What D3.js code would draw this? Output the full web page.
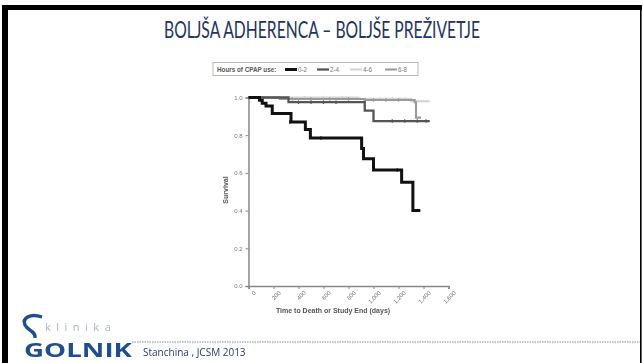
<!DOCTYPE html>
<html>
<head>
<meta charset="utf-8">
<script src="https://cdn.jsdelivr.net/npm/d3@7/dist/d3.min.js"></script>
<style>
  html, body { margin: 0; padding: 0; background: #fff; }
  svg { display: block; }
</style>
</head>
<body>
<svg id="slide" width="643" height="363"></svg>
<script>
// Kaplan–Meier survival by nightly CPAP use (hours)
const groups = ["0-2", "2-4", "4-6", "6-8"];
const groupColors = ["#111111", "#555555", "#d4d4d4", "#9a9a9a"];
const groupWidths = [3, 2.3, 2.1, 2.1];

// step points: [day, survival]; last entry marks end of follow-up
const surv02 = [[0, 1.0], [88, 0.985], [110, 0.97], [140, 0.955], [190, 0.915], [340, 0.87], [455, 0.83], [495, 0.785], [905, 0.73], [920, 0.675], [1000, 0.615], [1225, 0.55], [1315, 0.40], [1375, 0.40]];
const surv24 = [[0, 1.0], [320, 0.975], [930, 0.93], [1000, 0.875], [1450, 0.875]];
const surv46 = [[0, 1.0], [880, 0.993], [1300, 0.98], [1450, 0.98]];
const surv68 = [[0, 1.0], [250, 0.992], [930, 0.987], [1330, 0.975], [1340, 0.893], [1380, 0.893]];
const survivalSeries = [surv02, surv24, surv46, surv68];

// censored observations: [day, survival]
const cens02 = [[330, 0.87], [580, 0.785], [1190, 0.615]];
const cens24 = [[400, 0.975], [500, 0.975], [600, 0.975], [700, 0.975], [1150, 0.875], [1250, 0.875], [1350, 0.875], [1420, 0.875]];
const cens46 = [[300, 1.0], [450, 1.0], [600, 1.0], [750, 1.0], [1050, 0.993], [1150, 0.993], [1250, 0.993]];
const cens68 = [[350, 0.992], [500, 0.992], [650, 0.992], [800, 0.992], [1000, 0.987], [1100, 0.987], [1200, 0.987]];
const censorSeries = [cens02, cens24, cens46, cens68];

const xTicks = [0, 200, 400, 600, 800, 1000, 1200, 1400, 1600];
const yTicks = [0, 0.2, 0.4, 0.6, 0.8, 1.0];

const titleText = "BOLJŠA ADHERENCA – BOLJŠE PREŽIVETJE";
const citeText = "Stanchina , JCSM 2013";
const xTitle = "Time to Death or Study End (days)";
const yTitle = "Survival";
const legendTitle = "Hours of CPAP use:";

const svg = d3.select("#slide");

// slide frame
svg.append("rect").attr("x", 0).attr("y", 0).attr("width", 643).attr("height", 363).attr("fill", "#fff");
svg.append("rect").attr("x", 2).attr("y", 5).attr("width", 640).attr("height", 5).attr("fill", "#000");
svg.append("rect").attr("x", 2).attr("y", 5).attr("width", 6).attr("height", 358).attr("fill", "#000");
svg.append("rect").attr("x", 640).attr("y", 5).attr("width", 1.6).attr("height", 358).attr("fill", "#000");

// title
svg.append("text")
  .attr("x", 322).attr("y", 38)
  .attr("text-anchor", "middle")
  .attr("font-family", "Lato, 'Open Sans', sans-serif")
  .attr("font-size", 23)
  .attr("fill", "#24335f")
  .attr("textLength", 316).attr("lengthAdjust", "spacingAndGlyphs")
  .text(titleText);

// chart
const x = d3.scaleLinear().domain([0, 1600]).range([248.5, 448.5]);
const y = d3.scaleLinear().domain([0, 1]).range([286, 97.5]);

const chart = svg.append("g").style("filter", "blur(0.4px)");

const xAxis = chart.append("g")
  .attr("transform", `translate(0,${y(0)})`)
  .call(d3.axisBottom(x).tickValues(xTicks).tickSize(3).tickFormat(d3.format(",")));
xAxis.select(".domain").attr("stroke", "#888").attr("stroke-width", 1.5);
xAxis.selectAll(".tick line").attr("stroke", "#888");
xAxis.selectAll(".tick text")
  .attr("font-family", "'Liberation Sans', Arial, sans-serif")
  .attr("font-size", 6).attr("fill", "#777")
  .attr("text-anchor", "end")
  .attr("transform", "translate(3,3) rotate(-45)")
  .attr("dy", "0.35em").attr("y", 4).attr("x", 0);

const yAxis = chart.append("g")
  .attr("transform", `translate(${x(0)},0)`)
  .call(d3.axisLeft(y).tickValues(yTicks).tickSize(3).tickFormat(d3.format(".1f")));
yAxis.select(".domain").attr("stroke", "#888").attr("stroke-width", 1.5);
yAxis.selectAll(".tick line").attr("stroke", "#888");
yAxis.selectAll(".tick text")
  .attr("font-family", "'Liberation Sans', Arial, sans-serif")
  .attr("font-size", 6).attr("fill", "#777");

chart.append("text")
  .attr("x", 333).attr("y", 313)
  .attr("text-anchor", "middle")
  .attr("font-family", "'Liberation Sans', Arial, sans-serif")
  .attr("font-size", 7).attr("font-weight", "bold").attr("fill", "#555")
  .text(xTitle);

chart.append("text")
  .attr("transform", "translate(228,190) rotate(-90)")
  .attr("text-anchor", "middle")
  .attr("font-family", "'Liberation Sans', Arial, sans-serif")
  .attr("font-size", 7).attr("font-weight", "bold").attr("fill", "#555")
  .text(yTitle);

const stepLine = d3.line().x(d => x(d[0])).y(d => y(d[1])).curve(d3.curveStepAfter);

// draw lighter groups first so the 0-2 curve sits on top
[2, 3, 1, 0].forEach(i => {
  chart.append("path")
    .datum(survivalSeries[i])
    .attr("fill", "none")
    .attr("stroke", groupColors[i])
    .attr("stroke-width", groupWidths[i])
    .attr("d", stepLine);
  chart.append("g").selectAll("line")
    .data(censorSeries[i]).join("line")
    .attr("x1", d => x(d[0])).attr("x2", d => x(d[0]))
    .attr("y1", d => y(d[1]) - 1.8).attr("y2", d => y(d[1]) + 1.8)
    .attr("stroke", groupColors[i]).attr("stroke-width", 1.2);
});

// legend
const legend = chart.append("g");
legend.append("rect")
  .attr("x", 213).attr("y", 62.5).attr("width", 205).attr("height", 13)
  .attr("fill", "#fff").attr("stroke", "#aaa").attr("stroke-width", 0.8);
legend.append("text")
  .attr("x", 217).attr("y", 71.5)
  .attr("font-family", "'Liberation Sans', Arial, sans-serif")
  .attr("font-size", 6.3).attr("font-weight", "bold").attr("fill", "#555")
  .text(legendTitle);
const legendX = [285, 317, 350, 385];
groups.forEach((g, i) => {
  legend.append("line")
    .attr("x1", legendX[i]).attr("x2", legendX[i] + 12)
    .attr("y1", 69.5).attr("y2", 69.5)
    .attr("stroke", groupColors[i]).attr("stroke-width", groupWidths[i]);
  legend.append("text")
    .attr("x", legendX[i] + 13).attr("y", 71.7)
    .attr("font-family", "'Liberation Sans', Arial, sans-serif")
    .attr("font-size", 6.3).attr("fill", "#777")
    .text(g);
});

// footer rule
svg.append("line")
  .attr("x1", 132).attr("x2", 640).attr("y1", 342).attr("y2", 342)
  .attr("stroke", "#7d8aa8").attr("stroke-width", 1.2).attr("stroke-dasharray", "1.5,1");

// Klinika Golnik logo
const logo = svg.append("g");
logo.append("path")
  .attr("d", "M42,317 C30,313 22,318 25,325 C28,331 36,331 35,338")
  .attr("fill", "none").attr("stroke", "#1f4e8c").attr("stroke-width", 3.4);
logo.append("text")
  .attr("x", 45).attr("y", 331)
  .attr("font-family", "'Open Sans', sans-serif")
  .attr("font-size", 11).attr("fill", "#a8b3c6")
  .attr("letter-spacing", 5.5)
  .text("klinika");
logo.append("text")
  .attr("x", 24).attr("y", 357)
  .attr("font-family", "'Open Sans', sans-serif")
  .attr("font-size", 19).attr("font-weight", "bold").attr("fill", "#1f4e8c")
  .attr("textLength", 108).attr("lengthAdjust", "spacingAndGlyphs")
  .text("GOLNIK");

svg.append("text")
  .attr("x", 143).attr("y", 356)
  .attr("font-family", "'Open Sans', sans-serif")
  .attr("font-size", 10).attr("fill", "#2b3a63")
  .text(citeText);
</script>
</body>
</html>
